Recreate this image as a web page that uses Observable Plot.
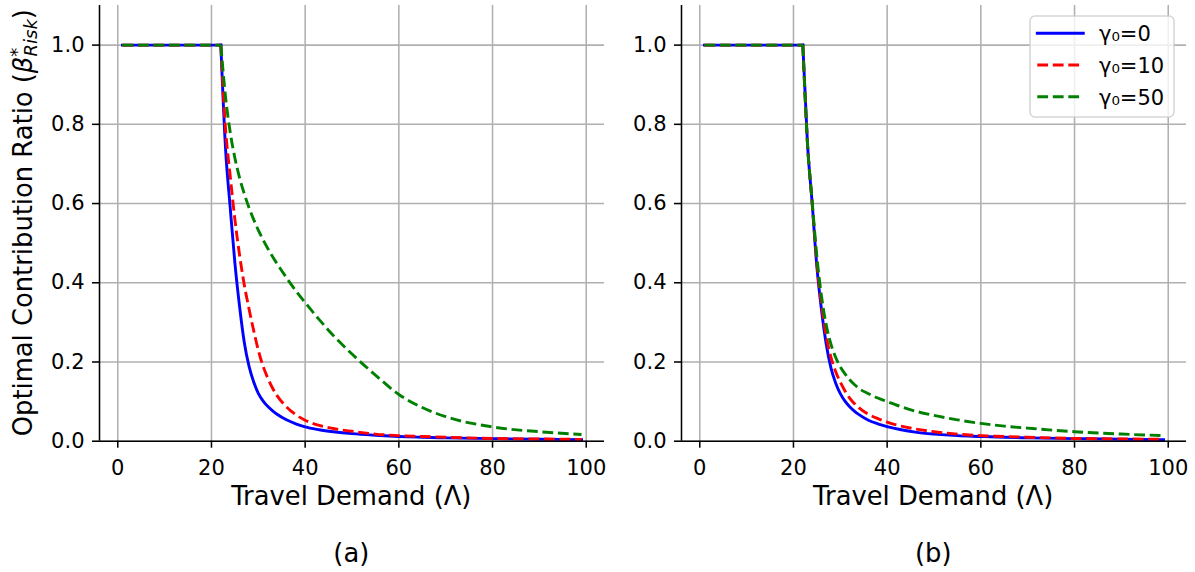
<!DOCTYPE html>
<html><head><meta charset="utf-8">
<script src="https://cdn.jsdelivr.net/npm/d3@7"></script>
<script src="https://cdn.jsdelivr.net/npm/@observablehq/plot@0.6"></script>
<style>
body{margin:0;background:#fff;}
#chart{position:relative;width:1195px;height:572px;font-family:"DejaVu Sans";}
#chart svg{position:absolute;top:0;}
</style></head><body><div id="chart"></div>
<script>
// Travel demand (Λ) sample points
const lambda = [1, 22, 23, 24, 25, 26, 27, 28, 29, 30, 31, 32, 33, 34, 36, 38, 40, 43, 46, 50, 55, 60, 65, 70, 80, 90, 99];
// Panel (a)
const a_gamma0  = [1, 1, 0.74, 0.59, 0.45, 0.34, 0.25, 0.19, 0.15, 0.121, 0.102, 0.088, 0.077, 0.068, 0.054, 0.044, 0.036, 0.029, 0.024, 0.019, 0.015, 0.012, 0.010, 0.0085, 0.0065, 0.005, 0.004];
const a_gamma10 = [1, 1, 0.79, 0.67, 0.56, 0.47, 0.395, 0.335, 0.28, 0.23, 0.19, 0.16, 0.135, 0.115, 0.087, 0.067, 0.053, 0.040, 0.032, 0.025, 0.018, 0.014, 0.012, 0.010, 0.007, 0.0055, 0.0045];
const a_gamma50 = [1, 1, 0.87, 0.78, 0.715, 0.665, 0.625, 0.59, 0.56, 0.533, 0.509, 0.487, 0.467, 0.448, 0.413, 0.38, 0.35, 0.307, 0.267, 0.22, 0.167, 0.118, 0.085, 0.062, 0.036, 0.024, 0.017];
// Panel (b)
const b_gamma0  = [1, 1, 0.75, 0.60, 0.44, 0.33, 0.245, 0.185, 0.147, 0.12, 0.101, 0.087, 0.076, 0.067, 0.053, 0.044, 0.037, 0.029, 0.023, 0.018, 0.014, 0.012, 0.010, 0.0085, 0.0065, 0.005, 0.004];
const b_gamma10 = [1, 1, 0.75, 0.60, 0.45, 0.345, 0.265, 0.212, 0.176, 0.149, 0.127, 0.109, 0.095, 0.084, 0.068, 0.057, 0.048, 0.038, 0.031, 0.024, 0.018, 0.014, 0.012, 0.010, 0.007, 0.0058, 0.005];
const b_gamma50 = [1, 1, 0.75, 0.605, 0.465, 0.365, 0.293, 0.245, 0.212, 0.188, 0.17, 0.155, 0.143, 0.133, 0.12, 0.109, 0.100, 0.087, 0.076, 0.065, 0.054, 0.045, 0.038, 0.033, 0.024, 0.018, 0.014];

const seriesLabels = ["γ₀=0", "γ₀=10", "γ₀=50"];
const panelLabels = ["(a)", "(b)"];
const xTicks = [0, 20, 40, 60, 80, 100];
const yTicks = [0, 0.2, 0.4, 0.6, 0.8, 1.0];
const xLabel = "Travel Demand (Λ)";

const colors = ["#0000ff", "#ff0000", "#008000"];
const dashes = [null, "10.8,4.7", "10.8,4.7"];

const W = 610, H = 480, ML = 99, MR = 6, MT = 5, MB = 39.3;
const XD = [-3.9, 103.9], YD = [0, 1.1];
const LABEL_FS = 25.8;

function panel(vals, left) {
  const marks = [
    Plot.gridX(xTicks, {stroke: "#b0b0b0", strokeOpacity: 1, strokeWidth: 1.55}),
    Plot.gridY(yTicks, {stroke: "#b0b0b0", strokeOpacity: 1, strokeWidth: 1.55})
  ];
  vals.forEach((arr, i) => {
    // flat part (up to the knee at index 1) and the decaying part, drawn as two pieces
    const data = [];
    lambda.forEach((L, j) => {
      if (j <= 1) data.push({L, v: arr[j], seg: 0});
      if (j >= 1) data.push({L, v: arr[j], seg: 1});
    });
    marks.push(Plot.line(data, {
      x: "L", y: "v", z: "seg", curve: "monotone-x", stroke: colors[i], strokeWidth: 2.9,
      strokeDasharray: dashes[i] || undefined,
      strokeLinecap: dashes[i] ? "butt" : "square", strokeLinejoin: "round"
    }));
  });
  marks.push(
    Plot.ruleX([XD[0]], {stroke: "#000", strokeWidth: 1.55}),
    Plot.ruleY([0], {stroke: "#000", strokeWidth: 1.55}),
    Plot.axisX(xTicks, {tickSize: 7, tickPadding: 11.5, strokeWidth: 1.55, tickFormat: d => String(d), label: null, fontSize: 21}),
    Plot.axisY(yTicks, {tickSize: 7, tickPadding: 8, strokeWidth: 1.55, tickFormat: d3.format(".1f"), label: null, fontSize: 21})
  );
  const svg = Plot.plot({
    width: W, height: H, marginLeft: ML, marginRight: MR, marginTop: MT, marginBottom: MB,
    x: {domain: XD}, y: {domain: YD},
    style: {fontFamily: "DejaVu Sans", fontSize: "21px", background: "transparent", color: "#000", overflow: "visible"},
    marks
  });
  svg.style.left = left + "px";
  return svg;
}

const chart = document.getElementById("chart");
chart.appendChild(panel([a_gamma0, a_gamma10, a_gamma50], 0));
chart.appendChild(panel([b_gamma0, b_gamma10, b_gamma50], 581.7));

// overlay: axis titles, panel labels, legend
const ov = d3.create("svg").attr("width", 1195).attr("height", 572)
  .style("left", "0px").style("font-family", "DejaVu Sans").style("pointer-events", "none");

const yl = ov.append("text").attr("transform", "translate(32,222.7) rotate(-90)")
  .attr("text-anchor", "middle").attr("font-size", LABEL_FS).attr("fill", "#000");
yl.append("tspan").text("Optimal Contribution Ratio (");
yl.append("tspan").attr("font-style", "italic").text("β");
yl.append("tspan").attr("font-size", 18).attr("dy", -9).text("*");
yl.append("tspan").attr("font-size", 18).attr("font-style", "italic").attr("dx", -8.8).attr("dy", 14).text("Risk");
yl.append("tspan").attr("dy", -5).text(")");

const centers = [351.3, 933.2];
centers.forEach((cx, i) => {
  ov.append("text").attr("x", cx).attr("y", 505).attr("text-anchor", "middle")
    .attr("font-size", LABEL_FS).attr("fill", "#000").text(xLabel);
  ov.append("text").attr("x", cx).attr("y", 562).attr("text-anchor", "middle")
    .attr("font-size", LABEL_FS).attr("fill", "#000").text(panelLabels[i]);
});

const lg = ov.append("g");
lg.append("rect").attr("x", 1030).attr("y", 16).attr("width", 144).attr("height", 101).attr("rx", 5)
  .attr("fill", "#fff").attr("fill-opacity", 0.8).attr("stroke", "#cccccc").attr("stroke-opacity", 0.8).attr("stroke-width", 1.55);
const rowsY = [33.3, 65, 96.7];
seriesLabels.forEach((s, i) => {
  lg.append("line").attr("x1", 1037.3).attr("x2", 1083.3).attr("y1", rowsY[i]).attr("y2", rowsY[i])
    .attr("stroke", colors[i]).attr("stroke-width", 2.9)
    .attr("stroke-dasharray", dashes[i]).attr("stroke-linecap", dashes[i] ? "butt" : "square");
  lg.append("text").attr("x", 1099).attr("y", rowsY[i] + 8).attr("font-size", 21).attr("fill", "#000").text(s);
});

chart.appendChild(ov.node());
</script></body></html>
